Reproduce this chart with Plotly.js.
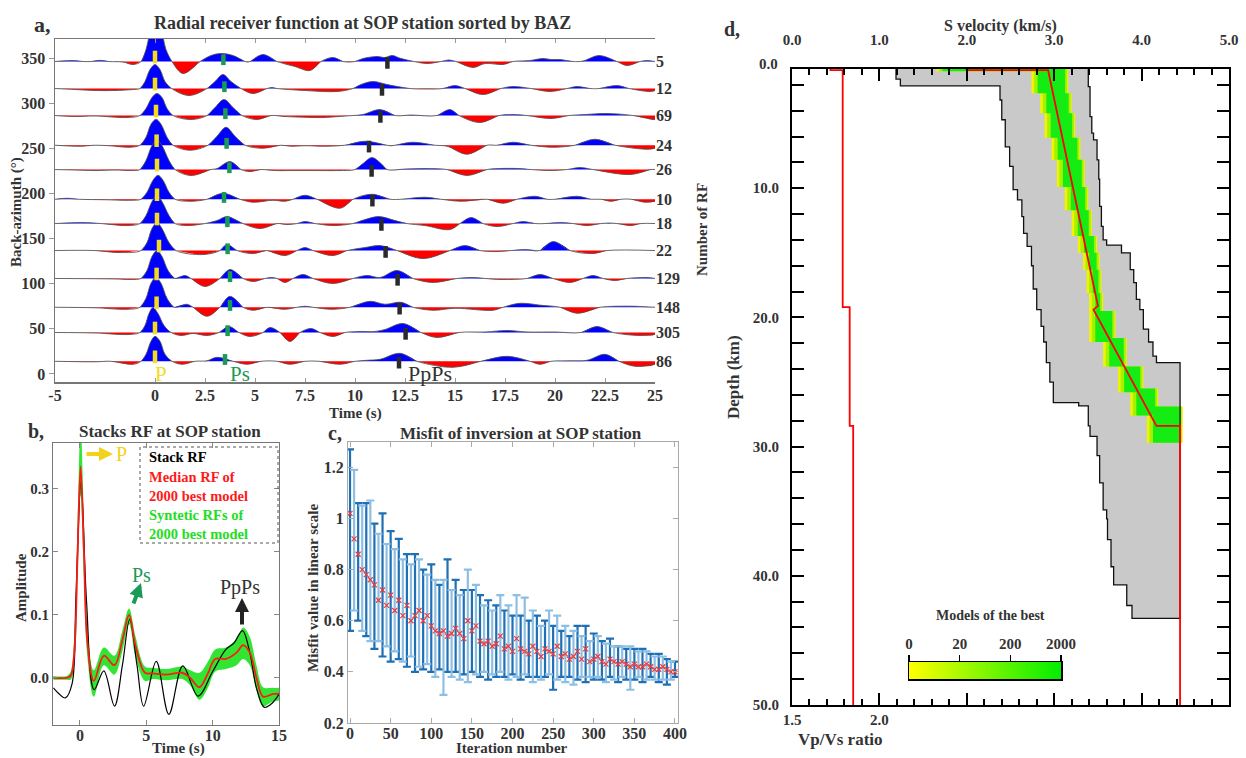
<!DOCTYPE html>
<html><head><meta charset="utf-8">
<script src="https://cdn.plot.ly/plotly-3.0.1.min.js"></script>
<style>html,body{margin:0;padding:0;background:#fff}#chart{width:1246px;height:758px}</style>
</head><body><div id="chart"></div>
<script>
const W = 1246, H = 758;
const fx = p => p / W;
const fy = p => 1 - p / H;
const SERIF = 'Liberation Serif, Times New Roman, serif';
const INK = '#333333';

// ================= Panel a : radial receiver functions =================
const bazBaselines = [347, 317, 287, 254, 227, 194, 167, 137, 106, 74, 46, 14];
const rfCountLabels = ['5', '12', '69', '24', '26', '10', '18', '22', '129', '148', '305', '86'];
const timeTicks = [-5, 0, 2.5, 5, 7.5, 10, 12.5, 15, 17.5, 20, 22.5, 25];
const timeTickText = ['-5', '0', '2.5', '5', '7.5', '10', '12.5', '15', '17.5', '20', '22.5', '25'];
const bazTicks = [0, 50, 100, 150, 200, 250, 300, 350];

// [time (s), amplitude] pairs read from each wiggle
const wave347 = [[-5,0],[-4.1,1],[-3.6,0],[-3.2,0],[-2.75,1.2],[-2.3,0],[-1.6,-0.5],[-1.1,-3],[-0.7,0],[-0.45,12],[-0.2,32],[0.05,40],[0.3,32],[0.55,12],[0.85,0],[1.4,-12],[2.25,0],[2.8,6],[3.3,8],[3.9,6],[4.5,0],[4.6,-0.5],[4.75,0],[5.4,7],[6.1,0],[7.0,-5],[7.75,-9],[8.3,0],[8.9,4],[9.4,0],[9.7,-0.5],[10.0,0],[10.4,3],[11.1,5],[11.5,4],[11.85,6],[12.3,3],[12.95,0],[13.6,-2],[14.3,0],[14.7,1.5],[15.05,0],[15.9,-6],[16.5,-2],[17.4,-3],[17.9,0],[18.75,1],[19.4,3],[19.8,2],[20.25,2],[20.9,0],[21.4,0.5],[22.2,6],[23.1,0],[23.6,-4],[24.25,0],[24.6,1],[25,0]];
const wave317 = [[-5,0],[-4,-1],[-3,-2],[-2,-2],[-1.1,-1],[-0.75,0],[-0.5,7],[-0.25,19],[0,24],[0.25,19],[0.5,7],[0.83,0],[1.7,-7],[2.6,0],[3.0,7],[3.4,14],[3.8,7],[4.3,0],[4.9,-5],[5.6,0],[5.85,1],[6.1,0],[7.5,-2],[9.1,-3],[9.9,0],[10.3,4],[10.9,7],[11.6,4],[12.75,0],[13.5,-0.5],[14.4,0],[15,3],[15.5,0],[16.4,-6],[17.3,0],[17.9,2],[18.8,0],[19.75,-3],[20.6,0],[21.1,2],[21.75,0],[22.2,0],[23.1,3],[23.7,0],[24.75,-3],[25,-2]];
const wave287 = [[-5,0],[-4,-1],[-3,-0.5],[-1.4,-2],[-0.75,0],[-0.45,7],[-0.15,18],[0.1,22],[0.35,18],[0.6,7],[0.9,0],[1.8,-4],[2.6,0],[3.0,8],[3.45,16],[3.9,8],[4.35,0],[5.1,-4],[5.8,0],[6.5,-1],[8.4,-2],[9.2,-1],[9.9,0],[10.4,1],[11.25,6],[12.0,0],[12.8,0.5],[14.1,0],[14.75,6],[15.2,0],[16.25,-7],[17.2,0],[17.9,1],[18.6,0],[19.8,-3],[20.7,0],[21.5,1],[22.6,2],[23.9,0],[24.9,-4],[25,-4]];
const wave254 = [[-5,0],[-3.75,-1],[-3,0],[-2.3,-0.5],[-1.25,-2],[-0.75,0],[-0.45,8],[-0.2,21],[0.05,26],[0.3,21],[0.6,8],[0.9,0],[1.75,-5],[2.65,0],[3.1,9],[3.55,18],[4.0,9],[4.5,0],[5.4,-3],[6.3,0],[6.8,-1],[7.5,-0.5],[8.5,-1],[9.5,0],[10.5,4],[11.6,0],[11.8,-0.5],[12.0,0],[12.9,3],[14.0,0],[14.6,-1],[15.6,-9],[16.6,0],[17.1,0],[17.9,3],[18.8,0],[19.9,-2],[21.0,0],[22.0,6],[23.0,0],[24.6,-4],[25,-3]];
const wave227 = [[-5,0],[-4,-0.5],[-3,-1],[-2,-0.5],[-1.2,-1],[-0.75,0],[-0.45,9],[-0.15,24],[0.1,30],[0.35,24],[0.7,9],[1.0,0],[1.8,-6],[2.8,0],[3.1,1],[3.75,8],[4.3,0],[4.75,-2],[5.3,0],[6.0,-1],[7.0,-1],[8,-1],[9.2,-1],[10.0,0],[10.4,6],[10.85,12],[11.3,6],[11.6,0],[12.5,0.5],[13.5,1],[14.6,0],[15.6,-6],[16.6,0],[17.2,1],[18.2,1],[18.8,0],[19.8,-1],[20.6,0],[21.25,2],[21.9,0],[23.75,-5],[24.8,0],[25,0]];
const wave194 = [[-5,0],[-4.4,1],[-3.8,0],[-2.5,-0.5],[-1.2,-1],[-0.7,0],[-0.4,7],[-0.1,19],[0.15,24],[0.4,19],[0.7,7],[1.0,0],[1.75,-2],[2.6,0],[3.4,6],[4.25,0],[4.9,-3],[5.9,-1],[6.5,-2],[6.9,0],[7.5,4],[8.1,0],[9.25,-9],[9.9,0],[10.85,5],[11.75,0],[12.3,0],[13.5,2],[14.3,0],[15.3,-2],[16.6,0],[17.4,-4],[18.1,0],[19.0,3],[19.6,0],[20.0,0],[21.1,3],[21.8,0],[22.3,0],[22.8,-2],[23.3,0],[23.8,0],[24.5,-3],[25,-2]];
const wave167 = [[-5,0],[-3.6,1],[-2.7,0],[-1.4,-2],[-0.75,0],[-0.45,8],[-0.15,22],[0.1,28],[0.35,22],[0.7,8],[1.0,0],[1.6,-2],[2.5,0],[3.1,3],[3.6,7],[4.1,3],[4.4,0],[5.25,-5],[6.1,0],[6.6,-1],[7.1,0],[7.5,2],[8.0,0],[8.9,-2],[9.9,0],[10.5,4],[11.2,7],[12.0,3],[12.6,0],[13.5,-2],[14.75,-6],[15.25,0],[15.8,6],[16.4,0],[17.1,-3],[17.9,0],[18.4,2],[19.0,0],[19.5,0],[20.3,1],[20.9,0],[21.6,-2],[22.3,0],[22.7,0.5],[23.1,0],[23.8,-2],[24.3,0],[25,0]];
const wave137 = [[-5,0],[-3,0],[-1.75,-2],[-0.7,0],[-0.4,8],[-0.15,22],[0.1,28],[0.35,22],[0.7,8],[1.05,0],[2.4,-4],[3.25,0],[3.6,6],[4.1,0],[4.9,-3],[5.6,0],[6.5,-5],[7.1,0],[7.5,3],[7.9,0],[8.9,-5],[9.6,0],[10.5,3],[11.25,5],[12.1,0],[13.4,-8],[14.75,0],[15.5,5],[16.25,0],[17.0,-1],[17.8,0],[18.5,1],[19.25,0],[19.9,9],[20.75,0],[21.9,-3],[22.6,0],[25,0]];
const wave106 = [[-5,0],[-2,-0.5],[-1.2,-1],[-0.7,0],[-0.4,8],[-0.15,22],[0.1,28],[0.35,22],[0.65,8],[1.0,0],[1.5,3],[1.8,0],[2.5,-8],[3.25,0],[3.75,9],[4.4,0],[4.9,-3],[5.5,0],[5.8,1],[6.1,0],[6.5,-4],[6.9,0],[7.4,4],[7.9,0],[8.9,-5],[9.9,0],[10.6,3],[11.25,1],[12.1,8],[12.9,0],[13.9,-4],[15.1,0],[15.9,1],[16.5,0],[17.3,-1],[18.6,0],[19.25,4],[19.9,0],[20.75,-4],[21.4,0],[21.9,3],[22.4,0],[23.0,-2],[23.6,0],[24.6,1],[25,0]];
const wave74 = [[-5,0],[-3,-0.5],[-1.4,-2],[-0.75,0],[-0.45,9],[-0.2,24],[0.05,30],[0.3,24],[0.6,9],[0.95,0],[1.6,3],[1.9,0],[2.6,-9],[3.25,0],[3.75,11],[4.4,0],[4.9,-3],[5.6,0],[6.5,-2],[7.1,0],[7.5,1],[7.9,0],[8.8,-2],[9.75,0],[10.75,6],[11.5,3],[12.3,5],[12.9,0],[13.9,-3],[15,-1],[16.9,-3],[17.4,0],[18.25,4],[19.3,2],[20.25,0],[21.1,-6],[22.25,0],[23,1],[24,1],[25,0]];
const wave46 = [[-5,0],[-3,-0.5],[-1.3,-2],[-0.75,0],[-0.5,7],[-0.3,19],[-0.1,25],[0.15,19],[0.45,7],[0.8,0],[1.3,-3],[1.9,-1],[2.6,-3],[3.2,0],[3.7,6],[4.2,0],[4.75,-4],[5.4,0],[5.75,5],[6.25,0],[6.75,-9],[7.25,0],[7.8,4],[8.25,0],[8.9,-4],[9.5,0],[10.2,1],[11.0,1],[11.5,3],[12.4,9],[13.3,0],[14.1,-5],[15.2,0],[16.5,0.5],[17.6,2],[18.6,0.5],[20,0.5],[21.3,0],[22.1,6],[22.9,0],[24.2,-3],[25,-2]];
const wave14 = [[-5,0],[-3,-0.5],[-2.2,0],[-1.1,-3],[-0.7,0],[-0.45,7],[-0.2,20],[0,25],[0.25,20],[0.5,7],[0.85,0],[1.35,-3],[2.0,0],[2.6,0.5],[3.1,4],[3.9,0],[4.6,-3],[5.3,0],[6.1,0],[6.75,-3],[7.5,0],[8.2,0],[9.25,-3],[10.0,0],[10.6,1],[11.25,2],[12.25,8],[13.1,0],[14.9,-6],[16.3,0],[17.6,5],[18.75,0],[19.25,-3],[19.8,0],[20.8,0.5],[21.6,1],[22.5,7],[23.2,0],[24.0,-5],[25,-3]];
const waves = [wave347, wave317, wave287, wave254, wave227, wave194, wave167, wave137, wave106, wave74, wave46, wave14];

// picked phase times (s) on each trace
const pPick = [0.0, 0.0, 0.05, 0.08, 0.1, 0.1, 0.1, 0.2, 0.08, 0.08, 0.0, 0.0];
const psPick = [3.42, 3.47, 3.52, 3.58, 3.72, 3.45, 3.62, 3.63, 3.75, 3.75, 3.63, 3.5];
const ppsPick = [11.62, 11.35, 11.27, 10.7, 10.83, 10.87, 11.32, 11.53, 12.13, 12.23, 12.53, 12.2];

// ================= Panel b : stacked RF =================
const stackTime = [-2,-1.6,-1.1,-0.6,-0.3,0.08,0.5,1.07,1.8,2.6,3.2,3.75,4.3,4.8,5.75,6.7,7.75,8.9,10,11,11.6,12.25,12.8,13.3,13.9,14.5,15];
const stackAmp = [-0.016,-0.025,-0.032,-0.01,0.13,0.312,0.12,-0.019,0.011,-0.045,0.02,0.093,0.02,-0.045,0.026,-0.058,0.019,-0.029,0.01,0.045,0.055,0.075,0.04,-0.016,-0.047,-0.04,-0.026];
const medianTime = [-2,-1,-0.7,-0.4,-0.2,0.05,0.3,0.55,1.05,1.8,2.6,3.2,3.7,4.2,4.9,5.5,6.5,7.7,8.3,9.0,9.6,10.2,11,11.8,12.3,12.8,13.3,13.8,14.5,15];
const medianAmp = [0,0,0.003,0.05,0.18,0.336,0.2,0.06,-0.005,0.035,0.02,0.06,0.10,0.05,0.008,0.007,0.005,0.008,0.0,-0.015,0.005,0.03,0.03,0.04,0.052,0.04,0.0,-0.03,-0.026,-0.025];
const synthUpper = [0.003,0.003,0.01,0.08,0.23,0.40,0.25,0.09,0.012,0.048,0.035,0.075,0.11,0.065,0.018,0.016,0.014,0.018,0.012,0.008,0.024,0.045,0.048,0.062,0.08,0.065,0.02,-0.015,-0.016,-0.016];
const synthLower = [-0.003,-0.003,-0.003,0.03,0.14,0.29,0.16,0.035,-0.03,0.02,0.005,0.042,0.085,0.032,-0.005,-0.002,-0.004,-0.002,-0.012,-0.035,-0.018,0.01,0.014,0.02,0.03,0.02,-0.02,-0.045,-0.038,-0.036];

// ================= Panel c : misfit =================
const misfitIter = [0,5,10,15,20,25,30,35,40,45,50,55,60,65,70,75,80,85,90,95,100,105,110,115,120,125,130,135,140,145,150,155,160,165,170,175,180,185,190,195,200,205,210,215,220,225,230,235,240,245,250,255,260,265,270,275,280,285,290,295,300,305,310,315,320,325,330,335,340,345,350,355,360,365,370,375,380,385,390,395,400];
const misfitMean = [1.02,0.92,0.86,0.80,0.78,0.76,0.74,0.68,0.72,0.66,0.70,0.64,0.68,0.62,0.66,0.60,0.62,0.64,0.60,0.62,0.58,0.56,0.55,0.56,0.54,0.55,0.57,0.55,0.53,0.60,0.56,0.58,0.52,0.51,0.52,0.50,0.51,0.54,0.49,0.50,0.48,0.53,0.49,0.48,0.47,0.50,0.48,0.46,0.49,0.48,0.47,0.50,0.46,0.47,0.45,0.46,0.48,0.45,0.49,0.44,0.45,0.46,0.44,0.43,0.45,0.44,0.43,0.44,0.43,0.42,0.43,0.42,0.42,0.43,0.42,0.41,0.41,0.42,0.41,0.40,0.40];
const misfitUpper = [1.27,1.19,1.06,1.05,1.06,1.07,0.98,0.94,1.02,0.90,0.95,0.88,0.92,0.84,0.86,0.82,0.86,0.84,0.80,0.78,0.82,0.76,0.74,0.76,0.84,0.72,0.76,0.70,0.72,0.80,0.72,0.74,0.70,0.66,0.68,0.64,0.66,0.70,0.64,0.66,0.62,0.70,0.62,0.69,0.60,0.64,0.62,0.58,0.60,0.64,0.58,0.62,0.56,0.58,0.54,0.56,0.58,0.54,0.58,0.52,0.55,0.54,0.52,0.51,0.53,0.50,0.50,0.50,0.49,0.50,0.49,0.48,0.49,0.48,0.47,0.46,0.47,0.46,0.45,0.44,0.44];
const misfitLower = [0.56,0.64,0.60,0.56,0.54,0.52,0.49,0.52,0.46,0.50,0.44,0.48,0.45,0.44,0.42,0.46,0.40,0.42,0.41,0.43,0.40,0.38,0.41,0.31,0.40,0.38,0.40,0.37,0.39,0.36,0.40,0.39,0.38,0.40,0.37,0.39,0.38,0.40,0.38,0.37,0.39,0.38,0.37,0.39,0.38,0.36,0.38,0.37,0.38,0.39,0.33,0.37,0.38,0.36,0.38,0.35,0.37,0.38,0.36,0.38,0.37,0.38,0.37,0.36,0.38,0.37,0.36,0.38,0.37,0.33,0.37,0.38,0.36,0.37,0.38,0.37,0.36,0.37,0.35,0.37,0.38];

// ================= Panel d : velocity model =================
const envLeftDepth = [0,1.55,2.08,3.17,4.7,6.8,8.3,10.1,10.9,12.2,13.5,14.5,16.0,17.8,19.4,20.7,21.9,23.5,25.0,26.6,26.85,28.4,29.2,30.7,32.8,34.9,35.6,37.2,39.3,40.7,42.3];
const envLeftVs = [1.19,1.24,2.38,2.40,2.44,2.49,2.53,2.58,2.63,2.65,2.69,2.74,2.76,2.80,2.85,2.88,2.91,2.95,2.99,3.28,3.39,3.41,3.49,3.52,3.56,3.60,3.61,3.65,3.68,3.83,3.89];
const envRightDepth = [0,2.14,4.45,5.74,6.25,7.8,9.3,11.4,12.95,14.0,14.4,15.0,16.3,17.3,18.6,19.4,20.9,21.9,23.0,23.5];
const envRightVs = [3.39,3.41,3.43,3.45,3.49,3.51,3.52,3.54,3.56,3.60,3.77,3.87,3.91,3.94,3.98,4.02,4.08,4.13,4.17,4.44];
const envBottomDepth = 43.3;
const bandTop = [0,0.95,2.65,4.2,6.1,7.8,9.9,11.7,13.7,15.0,16.3,18.1,19.5,21.6,23.8,25.5,26.9];
const bandBottom = [0.95,2.65,4.2,6.1,7.8,9.9,11.7,13.7,15.0,16.3,18.1,19.5,21.9,23.8,25.8,27.6,29.7];
const bandMinVs = [1.65,2.74,2.84,2.89,2.97,3.03,3.12,3.20,3.27,3.33,3.37,3.40,3.40,3.56,3.73,3.87,4.06];
const bandMaxVs = [3.16,3.16,3.20,3.24,3.30,3.35,3.39,3.43,3.49,3.52,3.54,3.56,3.70,3.83,4.02,4.19,4.47];
const medModelDepth = [0,0.85,0.85,19.1,19.4,28.4,28.4,50];
const medModelVs = [2.0,2.0,2.93,3.50,3.45,4.17,4.44,4.44];
const vpvsLayerTop = [0,0.85,19.2,28.4];
const vpvsValue = [1.72,1.79,1.83,1.85];
const modelBottom = 50;
const densityTicks = ['0','20','200','2000'];
const densityLevels = [0,1,2,3];

// ================= build traces =================
const traces = [];
const AMP = 1.11; // wiggle display gain

function lobes(wave, base, sign) {
  const x = [], y = [];
  let cur = [];
  const emit = () => {
    if (!cur.some(p => p[1] * sign > 0)) return;
    const seg = cur.slice();
    if (seg[0][1] !== 0) seg.unshift([seg[0][0], 0]);
    if (seg[seg.length - 1][1] !== 0) seg.push([seg[seg.length - 1][0], 0]);
    seg.forEach(p => { x.push(p[0]); y.push(base + p[1] * AMP); });
    x.push(null); y.push(null);
  };
  wave.forEach(p => {
    cur.push(p);
    if (p[1] === 0) { emit(); cur = [p]; }
  });
  emit();
  return {x, y};
}

waves.forEach((w, i) => {
  const b = bazBaselines[i];
  const pos = lobes(w, b, 1), neg = lobes(w, b, -1);
  traces.push({x: pos.x, y: pos.y, xaxis: 'x', yaxis: 'y', mode: 'lines', fill: 'toself', fillcolor: '#0000ff',
    line: {width: 0, shape: 'spline', smoothing: 1}, hoverinfo: 'skip'});
  traces.push({x: neg.x, y: neg.y, xaxis: 'x', yaxis: 'y', mode: 'lines', fill: 'toself', fillcolor: '#ff0000',
    line: {width: 0, shape: 'spline', smoothing: 1}, hoverinfo: 'skip'});
  traces.push({x: w.map(p => p[0]), y: w.map(p => b + p[1] * AMP), xaxis: 'x', yaxis: 'y', mode: 'lines',
    line: {color: 'rgba(80,80,80,0.85)', width: 1, shape: 'spline', smoothing: 1}, hoverinfo: 'skip'});
});

function pickBars(times, lo, hi, color) {
  const x = [], y = [];
  times.forEach((t, i) => { x.push(t, t, null); y.push(bazBaselines[i] + lo, bazBaselines[i] + hi, null); });
  return {x, y, xaxis: 'x', yaxis: 'y', mode: 'lines', line: {color, width: 4.5}, hoverinfo: 'skip'};
}
traces.push(pickBars(pPick, -2, 12, '#f3dc1c'));
traces.push(pickBars(psPick, -4, 8, '#1b9a55'));
traces.push(pickBars(ppsPick, -8, 5, '#2a2a2a'));
traces.push({x: bazBaselines.map(() => 25), y: bazBaselines, xaxis: 'x', yaxis: 'y2', mode: 'markers',
  marker: {opacity: 0}, hoverinfo: 'skip'});

// panel b
traces.push({x: medianTime, y: synthUpper, xaxis: 'x2', yaxis: 'y3', mode: 'lines',
  line: {width: 0, shape: 'spline'}, hoverinfo: 'skip'});
traces.push({x: medianTime, y: synthLower, xaxis: 'x2', yaxis: 'y3', mode: 'lines', fill: 'tonexty',
  fillcolor: 'rgba(40,228,40,0.95)', line: {width: 0, shape: 'spline'}, hoverinfo: 'skip'});
traces.push({x: stackTime, y: stackAmp, xaxis: 'x2', yaxis: 'y3', mode: 'lines',
  line: {color: '#000', width: 1.2, shape: 'spline'}, hoverinfo: 'skip'});
traces.push({x: medianTime, y: medianAmp, xaxis: 'x2', yaxis: 'y3', mode: 'lines',
  line: {color: '#ff1a1a', width: 1.8, shape: 'spline'}, hoverinfo: 'skip'});

// panel c
[0, 1].forEach(par => {
  const idx = misfitIter.map((_, i) => i).filter(i => i % 2 === par);
  traces.push({x: idx.map(i => misfitIter[i]), y: idx.map(i => misfitMean[i]), xaxis: 'x3', yaxis: 'y4',
    mode: 'markers', marker: {size: 1, opacity: 0},
    error_y: {type: 'data', symmetric: false, array: idx.map(i => misfitUpper[i] - misfitMean[i]),
      arrayminus: idx.map(i => misfitMean[i] - misfitLower[i]), color: par ? '#8dbfe4' : '#1f6fb4', thickness: 2.2, width: 4},
    hoverinfo: 'skip'});
});
traces.push({x: misfitIter, y: misfitMean, xaxis: 'x3', yaxis: 'y4', mode: 'markers',
  marker: {symbol: 'x-thin', size: 5, line: {color: '#ee3b3b', width: 1.2}}, hoverinfo: 'skip'});

// panel d
function stepDown(depths, vals, bottom) {
  const x = [], y = [];
  vals.forEach((v, i) => { x.push(v, v); y.push(depths[i], i + 1 < depths.length ? depths[i + 1] : bottom); });
  return {x, y};
}
const envL = stepDown(envLeftDepth, envLeftVs, envBottomDepth);
const envR = stepDown(envRightDepth, envRightVs, envBottomDepth);
traces.push({x: envL.x.concat(envR.x.slice().reverse()), y: envL.y.concat(envR.y.slice().reverse()),
  xaxis: 'x4', yaxis: 'y5', mode: 'lines', fill: 'toself', fillcolor: '#c9c9c9', line: {width: 0}, hoverinfo: 'skip'});

function bandRects(insetL, insetR, color) {
  const x = [], y = [];
  bandTop.forEach((t, i) => {
    const a = bandMinVs[i] + insetL, b = bandMaxVs[i] - insetR, d1 = bandBottom[i];
    x.push(a, a, b, b, null); y.push(d1, t, t, d1, null);
  });
  return {x, y, xaxis: 'x4', yaxis: 'y5', mode: 'lines', fill: 'toself', fillcolor: color, line: {width: 0}, hoverinfo: 'skip'};
}
traces.push(bandRects(0, 0, '#eef500'));
traces.push(bandRects(0.03, 0.012, '#a6f000'));
traces.push(bandRects(0.07, 0.035, '#14ec14'));

traces.push({x: envL.x.concat([envRightVs[envRightVs.length - 1]]), y: envL.y.concat([envBottomDepth]),
  xaxis: 'x4', yaxis: 'y5', mode: 'lines', line: {color: '#111', width: 1.3}, hoverinfo: 'skip'});
traces.push({x: envR.x, y: envR.y, xaxis: 'x4', yaxis: 'y5', mode: 'lines', line: {color: '#111', width: 1.3}, hoverinfo: 'skip'});
traces.push({x: medModelVs, y: medModelDepth, xaxis: 'x4', yaxis: 'y5', mode: 'lines',
  line: {color: '#ff0000', width: 1.8}, hoverinfo: 'skip'});
const vpvs = stepDown(vpvsLayerTop, vpvsValue, modelBottom);
traces.push({x: vpvs.x, y: vpvs.y, xaxis: 'x5', yaxis: 'y5', mode: 'lines',
  line: {color: '#ff0000', width: 1.8}, hoverinfo: 'skip'});

traces.push({type: 'heatmap', x: densityLevels, y: [0, 1], z: [densityLevels, densityLevels], xaxis: 'x6', yaxis: 'y6',
  colorscale: [[0, '#ffff00'], [1, '#00ee00']], zsmooth: 'best', showscale: false, hoverinfo: 'skip'});

// ================= layout =================
const tf = (size) => ({family: SERIF, size, color: INK, weight: 'bold'});
const base = {showgrid: false, zeroline: false, tickfont: tf(15)};

const layout = {
  width: W, height: H, margin: {l: 0, r: 0, t: 0, b: 0},
  paper_bgcolor: '#ffffff', plot_bgcolor: '#ffffff', showlegend: false,
  font: {family: SERIF, color: INK},
  xaxis: Object.assign({}, base, {domain: [fx(55), fx(655)], anchor: 'y', range: [-5, 25], tickmode: 'array',
    tickvals: timeTicks, ticktext: timeTickText, showline: true, linecolor: '#777', linewidth: 1.5, mirror: 'ticks',
    ticks: 'inside', ticklen: 4, tickcolor: '#999', ticklabelstandoff: -2, tickfont: tf(16)}),
  yaxis: Object.assign({}, base, {domain: [fy(382), fy(39)], anchor: 'x', range: [-9, 372], tickmode: 'array',
    tickvals: bazTicks, showline: true, linecolor: '#777', linewidth: 1.5, ticks: 'outside', ticklen: 5,
    tickcolor: '#999', tickfont: tf(16)}),
  yaxis2: Object.assign({}, base, {overlaying: 'y', side: 'right', anchor: 'x', range: [-9, 372], tickmode: 'array',
    tickvals: bazBaselines, ticktext: rfCountLabels, showline: false, ticks: '', tickfont: tf(16)}),

  xaxis2: Object.assign({}, base, {domain: [fx(53), fx(279)], anchor: 'y3', range: [-2.03, 15], tickmode: 'array',
    tickvals: [0, 5, 10, 15], showline: true, linecolor: '#777', mirror: 'ticks', ticks: 'inside', ticklen: 5,
    tickcolor: '#888', ticklabelstandoff: -4, tickfont: tf(16)}),
  yaxis3: Object.assign({}, base, {domain: [fy(725), fy(443)], anchor: 'x2', range: [-0.075, 0.373], tickmode: 'array',
    tickvals: [0, 0.1, 0.2, 0.3], tickformat: '.1f', showline: true, linecolor: '#777', mirror: 'ticks',
    ticks: 'inside', ticklen: 5, tickcolor: '#888', tickfont: tf(15)}),

  xaxis3: Object.assign({}, base, {domain: [fx(348), fx(678)], anchor: 'y4', range: [-2.5, 403.7], tickmode: 'linear',
    tick0: 0, dtick: 50, showline: true, linecolor: '#aaa', mirror: 'ticks', ticks: 'inside', ticklen: 5,
    tickcolor: '#aaa', ticklabelstandoff: -4, tickfont: tf(16)}),
  yaxis4: Object.assign({}, base, {domain: [fy(723), fy(441.7)], anchor: 'x3', range: [0.2, 1.3], tickmode: 'array',
    tickvals: [0.2, 0.4, 0.6, 0.8, 1, 1.2], showline: true, linecolor: '#aaa', mirror: 'ticks', ticks: 'inside',
    ticklen: 5, tickcolor: '#aaa', tickfont: tf(16)}),

  xaxis4: Object.assign({}, base, {domain: [fx(792), fx(1229)], anchor: 'y5', side: 'top', range: [0, 5],
    tickmode: 'linear', tick0: 0, dtick: 1, tickformat: '.1f', ticks: 'inside', ticklen: 12, tickwidth: 2,
    tickcolor: '#000', minor: {tickmode: 'linear', tick0: 0, dtick: 0.2, ticks: 'inside', ticklen: 6, tickwidth: 2, tickcolor: '#000'},
    showline: true, linewidth: 2, linecolor: '#000', mirror: 'allticks', ticklabelstandoff: 16, tickfont: tf(15)}),
  xaxis5: Object.assign({}, base, {overlaying: 'x4', anchor: 'y5', side: 'bottom', range: [1.5, 4.0], tickmode: 'array',
    tickvals: [1.5, 2.0], tickformat: '.1f', ticks: '', showline: false, ticklabelstandoff: 4, tickfont: tf(15)}),
  yaxis5: Object.assign({}, base, {domain: [fy(705), fy(69)], anchor: 'x4', range: [50, 0.77], tickmode: 'array',
    tickvals: [10, 20, 30, 40, 50], tickformat: '.1f', ticks: 'inside', ticklen: 12, tickwidth: 2, tickcolor: '#000',
    minor: {tickmode: 'linear', tick0: 0, dtick: 2, ticks: 'inside', ticklen: 6, tickwidth: 2, tickcolor: '#000'},
    showline: true, linewidth: 2, linecolor: '#000', mirror: 'allticks', ticklabelstandoff: 8, tickfont: tf(15)}),

  xaxis6: Object.assign({}, base, {domain: [fx(909), fx(1061)], anchor: 'y6', side: 'top', range: [0, 3], tickmode: 'array',
    tickvals: densityLevels, ticktext: densityTicks, ticks: 'outside', ticklen: 6, tickwidth: 1.5, tickcolor: '#000',
    showline: true, linecolor: '#000', linewidth: 1.5, mirror: true, tickfont: tf(15)}),
  yaxis6: Object.assign({}, base, {domain: [fy(679), fy(662)], anchor: 'x6', range: [0, 1], showticklabels: false,
    ticks: '', showline: true, linecolor: '#000', linewidth: 1.5, mirror: true}),
};

function note(text, x, y, size, extra) {
  const o = {text, x: fx(x), y: fy(y), xref: 'paper', yref: 'paper', showarrow: false, xanchor: 'center', yanchor: 'middle',
    font: {family: SERIF, size, color: INK, weight: 'bold'}};
  if (extra) {
    if (extra.font) Object.assign(o.font, extra.font);
    Object.keys(extra).forEach(k => { if (k !== 'font') o[k] = extra[k]; });
  }
  return o;
}
function arrow(hx, hy, tx, ty, color) {
  return {text: '', x: fx(hx), y: fy(hy), xref: 'paper', yref: 'paper', showarrow: true, ax: tx - hx, ay: ty - hy,
    arrowhead: 2, arrowsize: 0.7, arrowwidth: 4, arrowcolor: color};
}

layout.annotations = [
  note('a,', 42, 24, 22),
  note('Radial receiver function at SOP station sorted by BAZ', 362, 23, 18),
  note('Back-azimuth (°)', 17, 212, 15, {textangle: -90}),
  note('Time (s)', 355, 413, 15),
  note('Number of RF', 702, 230, 15, {textangle: -90}),
  note('P', 161, 374, 21, {font: {color: '#f3dc1c', weight: 'normal'}}),
  note('Ps', 240, 374, 21, {font: {color: '#1b9a55', weight: 'normal'}}),
  note('PpPs', 430, 373, 22, {font: {color: '#333', weight: 'normal'}}),
  note('b,', 36, 431, 20),
  note('Stacks RF at SOP station', 170, 431, 17),
  note('Amplitude', 21, 588, 15, {textangle: -90}),
  note('Time (s)', 178, 748, 15),
  note('Stack RF', 147, 457, 14.5, {xanchor: 'left', font: {color: '#000'}}),
  note('Median RF of', 147, 477, 14.5, {xanchor: 'left', font: {color: '#ff1a1a'}}),
  note('2000 best model', 147, 496, 14.5, {xanchor: 'left', font: {color: '#ff1a1a'}}),
  note('Syntetic RFs of', 147, 515, 14.5, {xanchor: 'left', font: {color: '#22dd22'}}),
  note('2000 best model', 147, 534, 14.5, {xanchor: 'left', font: {color: '#22dd22'}}),
  arrow(113, 454, 85, 454, '#f3d21c'),
  note('P', 122, 454, 20, {font: {color: '#f3d21c', weight: 'normal'}}),
  arrow(141, 583, 133, 605, '#1b9a55'),
  note('Ps', 141, 575, 20, {font: {color: '#1b9a55', weight: 'normal'}}),
  arrow(242, 598, 242, 626, '#222'),
  note('PpPs', 240, 587, 20, {font: {color: '#333', weight: 'normal'}}),
  note('c,', 335, 433, 20),
  note('Misfit of inversion at SOP station', 521, 433, 17),
  note('Misfit value in linear scale', 313, 588, 15, {textangle: -90}),
  note('Iteration number', 512, 748, 15),
  note('d,', 732, 29, 20),
  note('S velocity (km/s)', 1000, 26, 16),
  note('0.0', 768, 64, 15),
  note('Depth (km)', 733, 377, 17, {textangle: -90}),
  note('Vp/Vs ratio', 840, 739, 17),
  note('Models of the best', 990, 615, 14),
];

layout.shapes = [
  {type: 'rect', xref: 'paper', yref: 'paper', x0: fx(140), x1: fx(278), y0: fy(543), y1: fy(447),
    line: {color: '#555', width: 1, dash: 'dot'}, fillcolor: 'rgba(0,0,0,0)'}
];

Plotly.newPlot('chart', traces, layout, {displayModeBar: false, staticPlot: true});
</script>
</body></html>
